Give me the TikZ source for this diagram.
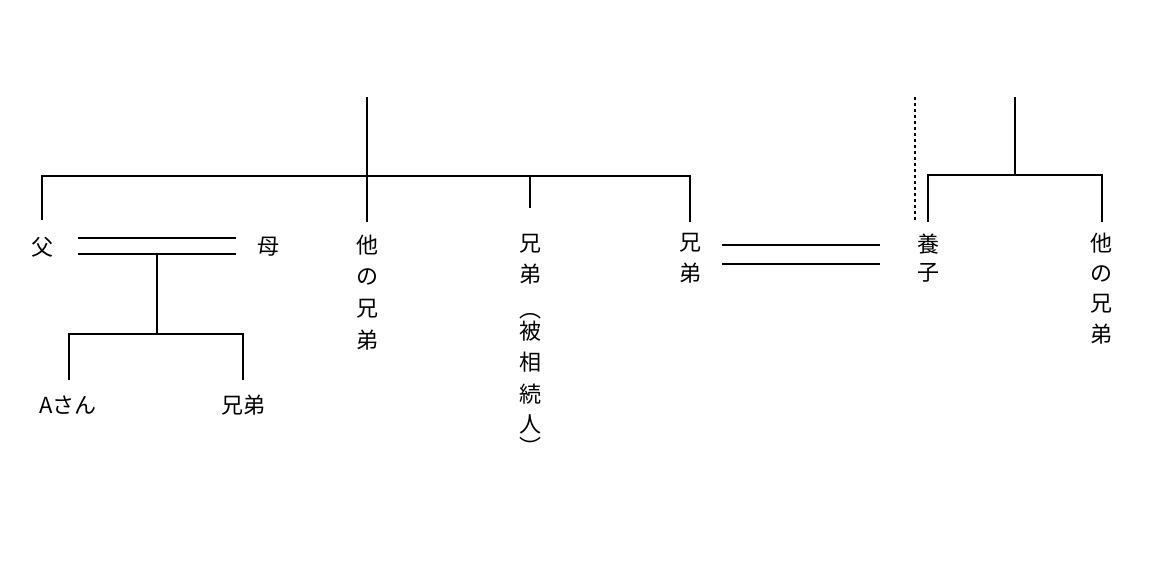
\documentclass[tikz,border=0pt]{standalone}
\usepackage{fontspec}
\setmainfont{Noto Sans CJK JP}
\begin{document}
\begin{tikzpicture}[x=1pt,y=-1pt,line width=2pt,
  lbl/.style={inner sep=0pt,font=\fontsize{22}{24}\selectfont}]
\useasboundingbox (0,0) rectangle (1163,564);
% left family
\coordinate (t1) at (367,97);
\coordinate (j1) at (367,176);
\draw (t1) -- (j1);
\draw (42,220) -- (42,176) -- (690,176) -- (690,222);
\draw (j1) -- (367,222);
\draw (530,176) -- (530,208);
\node[lbl] (fa) at (42,247) {父};
\node[lbl] (mo) at (268,247) {母};
\draw (78,238) -- (236,238);
\draw (78,254) -- (236,254);
\draw (157,254) -- (157,334);
\draw (69,380) -- (69,334) -- (243,334) -- (243,380);
\node[lbl] (a) at (68,405) {Aさん};
\node[lbl] (b) at (243,405) {兄弟};
% 他の兄弟
\foreach \c/\y in {他/245,の/277,兄/309,弟/340}{\node[lbl] at (367,\y) {\c};}
\foreach \c/\y in {兄/244,弟/274,︵/316,被/331,相/362,続/394,人/424,︶/446}{\node[lbl] at (530,\y) {\c};}
\foreach \c/\y in {兄/243,弟/273}{\node[lbl] at (690,\y) {\c};}
\draw (722,245) -- (880,245);
\draw (722,264) -- (880,264);
% right family
\draw[dashed] (915,97) -- (915,220);
\draw (1015,97) -- (1015,175);
\draw (928,222) -- (928,175) -- (1102,175) -- (1102,222);
\foreach \c/\y in {養/244,子/273}{\node[lbl] at (928,\y) {\c};}
\foreach \c/\y in {他/243,の/274,兄/304,弟/334}{\node[lbl] at (1101,\y) {\c};}
\end{tikzpicture}
\end{document}
